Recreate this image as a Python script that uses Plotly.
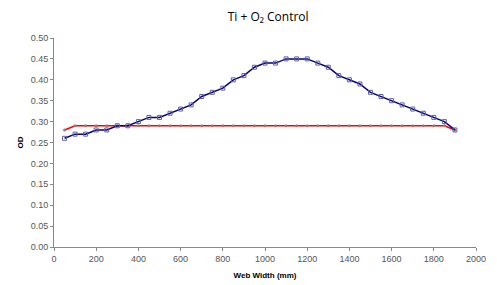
import plotly.graph_objects as go

web_width = [50, 100, 150, 200, 250, 300, 350, 400, 450, 500, 550, 600, 650, 700, 750,
             800, 850, 900, 950, 1000, 1050, 1100, 1150, 1200, 1250, 1300, 1350, 1400,
             1450, 1500, 1550, 1600, 1650, 1700, 1750, 1800, 1850, 1900]
blue_od = [0.26, 0.27, 0.27, 0.28, 0.28, 0.29, 0.29, 0.30, 0.31, 0.31, 0.32, 0.33, 0.34,
           0.36, 0.37, 0.38, 0.40, 0.41, 0.43, 0.44, 0.44, 0.45, 0.45, 0.45, 0.44, 0.43,
           0.41, 0.40, 0.39, 0.37, 0.36, 0.35, 0.34, 0.33, 0.32, 0.31, 0.30, 0.28]
red_od = [0.28] + [0.29] * 36 + [0.28]

x_ticks = [0, 200, 400, 600, 800, 1000, 1200, 1400, 1600, 1800, 2000]
y_ticks = [0.00, 0.05, 0.10, 0.15, 0.20, 0.25, 0.30, 0.35, 0.40, 0.45, 0.50]

fig = go.Figure()
fig.add_trace(go.Scatter(
    x=web_width, y=red_od, mode="lines+markers",
    line=dict(color="#FF0000", width=1.5),
    marker=dict(symbol="circle", size=3, color="#B07070", line=dict(width=0)),
    showlegend=False))
fig.add_trace(go.Scatter(
    x=web_width, y=blue_od, mode="lines+markers",
    line=dict(color="#000080", width=1.5),
    marker=dict(symbol="square-open", size=4, color="#6060A0", line=dict(width=1)),
    showlegend=False))

axis_font = dict(family="Liberation Sans, Arial, sans-serif", size=9, color="#555555")
title_font = dict(family="Liberation Sans, Arial, sans-serif", size=8, color="black")
fig.update_layout(
    width=489, height=277,
    margin=dict(l=46, r=21, t=30, b=38),
    paper_bgcolor="white", plot_bgcolor="white",
    title=dict(text="Ti + O₂ Control", x=0.532, xanchor="center", y=0.985, yanchor="top",
               pad=dict(t=0, b=0),
               font=dict(family="Open Sans, sans-serif", size=12, color="black")),
    xaxis=dict(range=[0, 2000], tickvals=x_ticks, ticks="outside", ticklen=3,
               tickcolor="#888888", showline=True, linecolor="#888888", linewidth=1,
               showgrid=False, zeroline=False, tickfont=axis_font, automargin=False,
               title=dict(text="<b>Web Width (mm)</b>", standoff=9, font=title_font)),
    yaxis=dict(range=[0, 0.5], tickvals=y_ticks, tickformat=".2f", ticks="outside", ticklen=3,
               tickcolor="#888888", showline=True, linecolor="#888888", linewidth=1,
               showgrid=False, zeroline=False, tickfont=axis_font, automargin=False,
               title=dict(text="<b>OD</b>", standoff=5, font=title_font)),
)

fig.write_html("out.html")
